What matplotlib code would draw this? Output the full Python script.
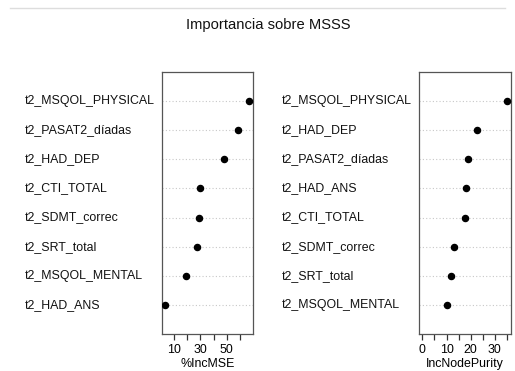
import matplotlib
matplotlib.use("Agg")
import matplotlib.pyplot as plt
from matplotlib.lines import Line2D
from matplotlib.ticker import FixedLocator, NullFormatter
import matplotlib.transforms as mtransforms

plt.rcParams['font.family'] = ['Liberation Sans', 'DejaVu Sans']

title = "Importancia sobre MSSS"

mse_vars = ["t2_MSQOL_PHYSICAL", "t2_PASAT2_díadas", "t2_HAD_DEP", "t2_CTI_TOTAL",
            "t2_SDMT_correc", "t2_SRT_total", "t2_MSQOL_MENTAL", "t2_HAD_ANS"]
mse_vals = [67.0, 58.5, 48.2, 30.0, 28.7, 27.2, 19.0, 3.5]
mse_major = [10, 30, 50]
mse_minor = [20, 40, 60]

purity_vars = ["t2_MSQOL_PHYSICAL", "t2_HAD_DEP", "t2_PASAT2_díadas", "t2_HAD_ANS",
               "t2_CTI_TOTAL", "t2_SDMT_correc", "t2_SRT_total", "t2_MSQOL_MENTAL"]
purity_vals = [35.1, 22.8, 19.0, 18.0, 17.6, 13.0, 11.8, 10.3]
purity_major = [0, 10, 20, 30]
purity_minor = [5, 15, 25, 35]

W, H = 515, 371
fig = plt.figure(figsize=(W / 100, H / 100), dpi=100)

def px_rect(x0, x1, ytop, ybot):
    return [x0 / W, 1 - ybot / H, (x1 - x0) / W, (ybot - ytop) / H]

FS = 8.9
BOX = "#555555"

def dot_panel(rect, names, vals, xmin, major, minor, xlabel, label_x):
    ax = fig.add_axes(rect)
    n = len(vals)
    ys = [n - i for i in range(n)]
    lo, hi = xmin, max(vals)
    pad = 0.04 * (hi - lo)
    ax.set_xlim(lo - pad, hi + pad)
    ax.set_ylim(0, n + 1)
    for y in ys:
        ax.axhline(y, color="#c8c8c8", lw=0.8, ls=(0, (1, 2)), zorder=1)
    ax.plot(vals, ys, "o", color="black", ms=4.4, zorder=3)
    ax.set_yticks([])
    ax.xaxis.set_major_locator(FixedLocator(major))
    ax.xaxis.set_minor_locator(FixedLocator(minor))
    ax.xaxis.set_minor_formatter(NullFormatter())
    ax.tick_params(axis="x", which="both", direction="out", length=4.3,
                   width=0.9, color="#333333", labelsize=FS, pad=2.8)
    ax.set_xlabel(xlabel, fontsize=FS, labelpad=1.2)
    for sp in ax.spines.values():
        sp.set_color(BOX)
        sp.set_linewidth(0.9)
    tr = mtransforms.blended_transform_factory(fig.transFigure, ax.transData)
    for nm, y in zip(names, ys):
        ax.text(label_x / W, y, nm, transform=tr, ha="left", va="center",
                fontsize=FS, color="#111111")
    return ax

dot_panel(px_rect(162, 252.5, 72, 334), mse_vars, mse_vals, min(mse_vals),
          mse_major, mse_minor, "%IncMSE", 25)
dot_panel(px_rect(419, 510.5, 72, 334), purity_vars, purity_vals, 0,
          purity_major, purity_minor, "IncNodePurity", 282)

fig.text(268 / W, 1 - 25 / H, title, ha="center", va="center", fontsize=10.6,
         color="#111111")
fig.add_artist(Line2D([10 / W, 505 / W], [1 - 8 / H, 1 - 8 / H],
                      color="#dddddd", lw=1.0))

fig.savefig("out.png", dpi=100)
